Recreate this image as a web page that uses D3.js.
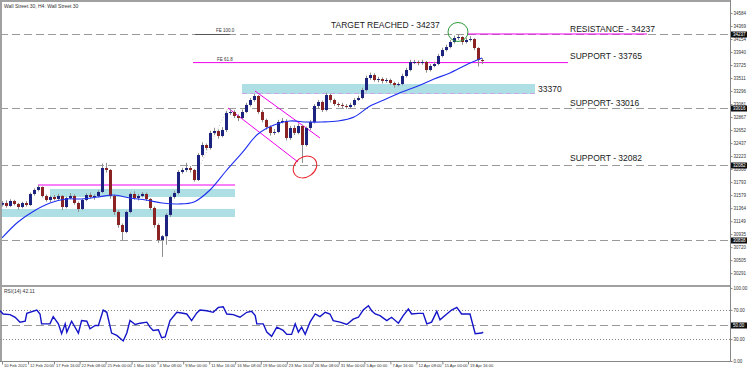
<!DOCTYPE html>
<html><head><meta charset="utf-8">
<script src="https://cdn.jsdelivr.net/npm/d3@7"></script>
<style>html,body{margin:0;padding:0;background:#fff;} svg{display:block;font-family:"Liberation Sans",Arial,sans-serif;}</style>
</head><body><svg id="c" width="750" height="372"></svg>
<script>
// ---------- DATA ----------
const firstOpen = 31420;
const closes = [31448,31399,31481,31432,31382,31448,31415,31597,31663,31712,
31564,31498,31547,31514,31564,31382,31531,31564,31448,31349,
31498,31580,31547,31564,31630,32026,31993,31564,31300,31085,
30970,31300,31597,31531,31564,31597,31514,31366,31085,30838,
30900,31251,31547,31613,31960,31993,32026,31993,31828,32240,
32405,32356,32604,32636,32554,32653,32934,32950,32884,32851,
32950,33066,33148,33214,32950,32818,32702,32604,32620,32785,
32802,32521,32686,32604,32719,32405,32686,32785,33049,33115,
32983,33230,33148,33082,33066,33049,33032,33066,33148,33181,
33313,33511,33560,33478,33494,33462,33478,33428,33395,33412,
33544,33643,33775,33775,33758,33775,33643,33709,33742,33874,
33973,34022,34105,34171,34187,34105,34138,34154,34006,33808,
33792];
const highs = [31480,31490,31510,31500,31450,31470,31480,31620,31690,31745,
31720,31590,31570,31580,31600,31580,31550,31610,31590,31470,
31520,31610,31620,31590,31660,32100,32110,32010,31580,31330,
31110,31320,31620,31640,31600,31630,31620,31530,31390,31110,
30920,31280,31570,31650,31990,32030,32110,32060,32010,32270,
32450,32430,32640,32690,32660,32700,32970,33000,32980,32910,
32990,33100,33180,33250,33230,32980,32840,32730,32670,32820,
32850,32830,32720,32730,32760,32740,32710,32820,33080,33150,
33140,33270,33250,33170,33110,33100,33080,33100,33180,33220,
33350,33550,33600,33590,33530,33520,33510,33500,33450,33440,
33580,33680,33810,33810,33800,33810,33790,33740,33780,33910,
34010,34060,34140,34210,34237,34200,34170,34200,34170,34020,
33840];
const lows = [31390,31370,31380,31410,31340,31360,31390,31400,31570,31640,
31540,31470,31460,31490,31500,31330,31360,31510,31420,31300,
31330,31480,31520,31500,31540,31610,31950,31520,31250,31040,
30838,30950,31280,31500,31490,31540,31480,31330,31040,30790,
30558,30760,31220,31520,31590,31930,31960,31950,31800,31810,
32210,32320,32330,32570,32510,32530,32620,32900,32850,32800,
32830,32930,33040,33120,32920,32780,32660,32560,32570,32600,
32760,32480,32490,32570,32580,32109,32380,32650,32760,33010,
32950,32960,33110,33050,33030,33010,33000,33010,33040,33130,
33160,33290,33480,33450,33440,33420,33430,33400,33350,33370,
33390,33520,33620,33740,33720,33730,33600,33620,33690,33720,
33850,33950,34000,34080,34140,34060,34080,34110,33970,33700,
33740];
// moving average, read every 4th bar
const maStep = 4;
const maValues = [30871,31135,31317,31448,31514,31514,31547,31580,31531,31498,31448,31432,31465,31663,31976,32274,32587,32736,32802,32785,32785,32802,32868,33049,33165,33280,33379,33494,33594,33726,33841];
// RSI(14): bar position and value
const rsiPos = [-0.5,0.3,2,3.3,4.5,5.8,6.2,8.7,9.5,9.9,12,12.8,14.1,14.9,15.8,16.2,17.4,19.1,19.9,21.2,22,23.3,24.1,25.3,26.2,27.4,28.7,30.3,31.2,32,33.3,34.5,36.2,37,37.8,39.1,39.9,40.8,42,43.7,44.9,46.2,47.4,48.7,49.5,51.2,52.8,54.1,55.3,56.2,57.8,59.5,61.2,62.4,63.3,63.7,65.3,66.2,67.4,68.7,70.3,71.2,72.4,73.3,74.1,74.9,75.8,77,78.3,79.5,80.8,82,82.8,84.5,86.2,87.8,89.1,90.3,91.6,92.4,93.3,94.5,96.2,97.4,99.1,100.3,101.6,102.4,104.1,105.3,106.2,107.4,108.7,109.5,111.2,112.4,113.7,114.9,117,118.3,119.9,120.3];
const rsiValues = [68.9,64.4,63.5,59.9,53.2,54.5,65.3,69.8,64.4,50.9,50.9,60.8,50.9,37.4,50.9,39.6,54.5,38.3,55.4,54.5,44.1,48.6,48.6,69.8,66.7,38.3,35.1,27.5,38.3,55.4,50,51.8,53.2,46.4,41.9,42.8,32,32.9,55.4,66.7,65.8,64.4,55.4,65.8,69.8,68.9,66.7,73.4,74.3,64.4,63.5,59.9,66.7,68,62.2,50.9,50.9,39.6,33.8,46.4,41.9,36.5,36.5,50.9,39.6,46.4,36.5,53.2,64.4,60.8,66.7,64.4,55.4,53.2,50,57.3,59.9,69.8,75.7,68.9,64.4,62.2,55.4,59.9,51.8,62.2,71.2,64.4,65.3,65.3,50.9,53.2,68,56.3,64.4,69.8,73.4,64.4,64.4,37.4,38.3,39.6];
const priceTicks = [34584,34369,34154,33940,33725,33511,33296,33081,32867,32652,32437,32223,32008,31793,31579,31364,31149,30935,30720,30505,30291];
const levelLines = [34237,33016,32082,30838];
const rsiTicks = [100,70,30,0];
const rsiLevels = {dotted:[70,30], dashed:[50]};
const xLabels = ["10 Feb 2021","12 Feb 20:00","17 Feb 16:00","22 Feb 08:00","25 Feb 00:00","1 Mar 16:00","4 Mar 08:00","9 Mar 00:00","11 Mar 16:00","16 Mar 08:00","19 Mar 00:00","23 Mar 16:00","26 Mar 08:00","31 Mar 00:00","5 Apr 00:00","7 Apr 16:00","12 Apr 08:00","15 Apr 00:00","19 Apr 16:00"];
const xLabelPos = [0,6.5,13,19.4,25.9,32.4,38.9,45.3,51.8,58.3,64.7,71.2,77.7,84.2,90.6,97.1,103.6,110.1,116.5];
const annotations = [
  {text:"TARGET REACHED - 34237", price:34237},
  {text:"RESISTANCE - 34237", price:34237},
  {text:"SUPPORT - 33765", price:33765},
  {text:"33370", price:33370},
  {text:"SUPPORT- 33016", price:33016},
  {text:"SUPPORT - 32082", price:32082}
];
const zoneUpper = [31547,31680];
const zoneLower = [31217,31350];
const zoneMid = [33247,33412];
const rangeTop = 31745;

// ---------- SCALES ----------
const svg = d3.select('#c');
const axisX = 730;
const x = d3.scaleLinear().domain([0,120]).range([2,482]);
const y = d3.scaleLinear().domain([30095,34765]).range([285,2]);
const yR = d3.scaleLinear().domain([0,100]).range([361,288]);
const opens = closes.map((c,i)=> i===0 ? firstOpen : closes[i-1]);

svg.append('rect').attr('width',750).attr('height',372).attr('fill','#fff');

// zones
function zone(i0,i1,p){
  svg.append('rect').attr('x',x(i0)).attr('width',x(i1)-x(i0))
    .attr('y',y(p[1])).attr('height',y(p[0])-y(p[1])).attr('fill','#aedfe4');
}
zone(12,58.25,zoneUpper);
zone(-0.5,58.25,zoneLower);
zone(60,133.25,zoneMid);
svg.append('line').attr('x1',x(60)).attr('x2',x(133.25)).attr('y1',y(zoneMid[0])-0.5).attr('y2',y(zoneMid[0])-0.5)
  .attr('stroke','#c9a6e6').attr('stroke-dasharray','5,3');

// dashed level lines
svg.selectAll('.lvl').data(levelLines).enter().append('line')
  .attr('x1',0).attr('x2',axisX).attr('y1',d=>Math.round(y(d))+0.5).attr('y2',d=>Math.round(y(d))+0.5)
  .attr('stroke','#9a9a9a').attr('stroke-width',1.2).attr('stroke-dasharray','8,4');

// magenta lines
function mline(i0,p0,i1,p1){
  svg.append('line').attr('x1',x(i0)).attr('y1',y(p0)).attr('x2',x(i1)).attr('y2',y(p1))
    .attr('stroke','#f000f0').attr('stroke-width',1);
}
mline(9,rangeTop,58.25,rangeTop);
mline(47.75,33765,141.5,33765);
mline(116.25,34237,161.25,34237);
mline(63.25,33296,79.5,32521);
mline(56.5,33016,74,32125);
// FE 100 short line
svg.append('line').attr('x1',x(48.25)).attr('x2',x(57)).attr('y1',y(34237)+0.5).attr('y2',y(34237)+0.5)
  .attr('stroke','#555').attr('stroke-width',1);
// dotted FE leg
svg.append('line').attr('x1',x(47.75)).attr('y1',y(31830)).attr('x2',x(56.5)).attr('y2',y(33016))
  .attr('stroke','#aaa').attr('stroke-width',0.7).attr('stroke-dasharray','1,2');
svg.append('text').attr('x',x(53.5)).attr('y',y(34237)-2).attr('font-size',4.5).attr('fill','#333').text('FE 100.0');
svg.append('text').attr('x',x(53.75)).attr('y',y(33765)-2).attr('font-size',4.5).attr('fill','#333').text('FE 61.8');

// candles
const idx = d3.range(closes.length);
svg.selectAll('.wick').data(idx).enter().append('line')
  .attr('x1',i=>Math.round(x(i))+0.5).attr('x2',i=>Math.round(x(i))+0.5)
  .attr('y1',i=>y(highs[i])).attr('y2',i=>y(lows[i]))
  .attr('stroke','#8e8e8e').attr('stroke-width',1);
svg.selectAll('.body').data(idx).enter().append('rect')
  .attr('x',i=>Math.round(x(i))-1).attr('width',3)
  .attr('y',i=>y(Math.max(opens[i],closes[i])))
  .attr('height',i=>Math.max(1,Math.abs(y(opens[i])-y(closes[i]))))
  .attr('fill',i=>closes[i]>=opens[i]?'#1c237e':'#8a2323');

// MA
svg.append('path').datum(maValues)
  .attr('d',d3.line().x((d,i)=>x(i*maStep)).y(d=>y(d)).curve(d3.curveCatmullRom))
  .attr('fill','none').attr('stroke','#1f2ff0').attr('stroke-width',1.1);

// ellipses
svg.append('ellipse').attr('cx',x(75.75)).attr('cy',y(32042)).attr('rx',12.5).attr('ry',10)
  .attr('transform',`rotate(-35 ${x(75.75)} ${y(32042)})`).attr('fill','none').attr('stroke','#e8202a').attr('stroke-width',1);
svg.append('ellipse').attr('cx',x(114)).attr('cy',y(34270)).attr('rx',10).attr('ry',9.5)
  .attr('fill','none').attr('stroke','#2e9a3a').attr('stroke-width',1);

// annotation text
const annPos = [[82.25,28.3],[142,31.5],[142,59.3],[134,92],[142,105.5],[142,161]];
svg.selectAll('.ann').data(annotations).enter().append('text')
  .attr('x',(d,i)=>x(annPos[i][0])).attr('y',(d,i)=>annPos[i][1])
  .attr('font-size',8.5).attr('fill','#1a1a1a').text(d=>d.text);

// frame
svg.append('line').attr('x1',0).attr('x2',axisX).attr('y1',1).attr('y2',1).attr('stroke','#a0a0a0').attr('stroke-width',2);
svg.append('line').attr('x1',1).attr('x2',1).attr('y1',0).attr('y2',361).attr('stroke','#a0a0a0').attr('stroke-width',2);
svg.append('line').attr('x1',0).attr('x2',axisX).attr('y1',286).attr('y2',286).attr('stroke','#a0a0a0').attr('stroke-width',2);

// price axis
const yAxis = svg.append('g').attr('transform',`translate(${axisX+0.5},0)`)
  .call(d3.axisRight(y).tickValues(priceTicks).tickSize(2).tickFormat(d3.format('d')));
yAxis.select('.domain').attr('stroke','#888').attr('d','M0,0V361');
yAxis.selectAll('text').attr('font-size',4.5).attr('fill','#333').attr('x',3).attr('font-family','"Liberation Sans",Arial');
yAxis.selectAll('line').attr('stroke','#888');
// highlighted level labels
const hl = svg.selectAll('.hl').data(levelLines).enter().append('g').attr('transform',d=>`translate(${axisX+1},${Math.round(y(d))+0.5})`);
hl.append('rect').attr('x',0).attr('y',-3).attr('width',16).attr('height',6).attr('fill','#111');
hl.append('text').attr('x',2).attr('y',1.7).attr('font-size',4.5).attr('fill','#fff').text(d=>d);

// title
svg.append('text').attr('x',4).attr('y',8).attr('font-size',5).attr('fill','#333').text('Wall Street 30, H4:  Wall Street 30');

// RSI panel
svg.selectAll('.rd').data(rsiLevels.dotted).enter().append('line')
  .attr('x1',0).attr('x2',axisX).attr('y1',d=>Math.round(yR(d))+0.5).attr('y2',d=>Math.round(yR(d))+0.5)
  .attr('stroke','#888').attr('stroke-dasharray','1,2');
svg.selectAll('.rs').data(rsiLevels.dashed).enter().append('line')
  .attr('x1',0).attr('x2',axisX).attr('y1',d=>Math.round(yR(d))+0.5).attr('y2',d=>Math.round(yR(d))+0.5)
  .attr('stroke','#999').attr('stroke-width',1.2).attr('stroke-dasharray','8,4');
svg.append('path').datum(rsiValues)
  .attr('d',d3.line().x((d,i)=>x(rsiPos[i])).y(d=>yR(d)))
  .attr('fill','none').attr('stroke','#1414c8').attr('stroke-width',1.4);
svg.append('text').attr('x',4).attr('y',293).attr('font-size',5).attr('fill','#333').text('RSI(14) 42.11');
const rAxis = svg.append('g').attr('transform',`translate(${axisX+0.5},0)`)
  .call(d3.axisRight(yR).tickValues(rsiTicks).tickSize(2).tickFormat(d3.format('.2f')));
rAxis.select('.domain').remove();
rAxis.selectAll('text').attr('font-size',4.5).attr('fill','#333').attr('x',3).attr('font-family','"Liberation Sans",Arial');
rAxis.selectAll('line').attr('stroke','#888');
const rh = svg.selectAll('.rh').data(rsiLevels.dashed).enter().append('g').attr('transform',d=>`translate(${axisX+1},${Math.round(yR(d))+0.5})`);
rh.append('rect').attr('x',0).attr('y',-3).attr('width',16).attr('height',6).attr('fill','#111');
rh.append('text').attr('x',2).attr('y',1.7).attr('font-size',4.5).attr('fill','#fff').text(d=>d3.format('.2f')(d));

// time axis
svg.append('line').attr('x1',0).attr('x2',axisX+1).attr('y1',361.5).attr('y2',361.5).attr('stroke','#888');
const xAxis = svg.append('g').attr('transform','translate(0,361.5)')
  .call(d3.axisBottom(x).tickValues(xLabelPos).tickSize(3).tickFormat((d,i)=>xLabels[i]));
xAxis.select('.domain').remove();
xAxis.selectAll('line').attr('stroke','#888');
xAxis.selectAll('text').attr('font-size',4.1).attr('fill','#333').attr('text-anchor','start').attr('dx',1.5).attr('y',3).attr('dy','0.71em').attr('font-family','"Liberation Sans",Arial');
</script></body></html>
